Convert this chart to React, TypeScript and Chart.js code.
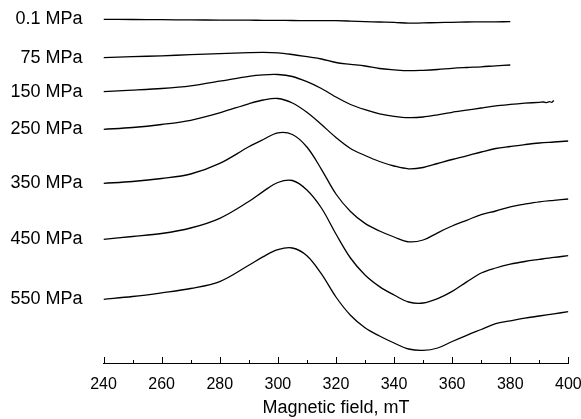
import React, { useEffect, useRef } from "react";
import { Chart, registerables } from "chart.js";

Chart.register(...registerables);

// Magnetic field grid (mT)
const FIELD_MT = [240, 250, 260, 270, 280, 290, 295, 300, 305, 310, 315, 320, 325, 330, 335, 340, 345, 350, 355, 360, 365, 370, 375, 380, 385, 390, 395, 400];

// Pressure labels (top to bottom) and baseline of each stacked spectrum (arb. units)
const PRESSURE_LABELS = ["0.1 MPa", "75 MPa", "150 MPa", "250 MPa", "350 MPa", "450 MPa", "550 MPa"];
const BASELINES = [343.7, 305.3, 271.3, 233.7, 179.7, 123.7, 63.7];

// EPR derivative signals relative to each baseline (arb. units)
const SIG_0_1 = [0, -0.2, -0.4, -0.6, -0.8, -0.9, -1.0, -1.1, -1.2, -1.3, -1.3, -1.4, -1.8, -2.3, -2.7, -3.0, -3.9, -3.6, -3.3, -3.0, -2.7, -2.6, -2.5, -2.4];
const SIG_75 = [0, 1.0, 1.9, 3.0, 4.0, 5.1, 5.4, 4.9, 3.2, 1.0, -1.3, -4.8, -6.6, -8.3, -10.8, -12.1, -13.0, -12.6, -11.8, -10.6, -9.8, -9.1, -8.1, -7.3];
const SIG_150 = [0, 1.5, 3.2, 5.9, 10.5, 15.4, 16.9, 17.2, 15.2, 10.0, 3.2, -5.3, -12.8, -18.0, -22.1, -24.6, -25.9, -25.3, -23.1, -20.6, -18.5, -16.3, -14.1, -12.7, -11.5, -10.6];
const HOOK_150_MT = [391.5, 392.5, 393.5, 394.3, 395.0];
const HOOK_150_SIG = [-10.3, -10.9, -10.0, -10.6, -8.8];
const SIG_250 = [0, 1.8, 4.8, 9.0, 16.5, 25.5, 29.3, 30.8, 26.3, 17.0, 4.8, -8.2, -19.2, -26.2, -32.2, -36.7, -39.5, -38.2, -34.2, -30.2, -26.5, -22.7, -19.2, -17.2, -15.3, -13.7, -12.7, -11.7];
const SIG_350 = [0, 1.8, 4.8, 9.3, 19.9, 36.5, 43.8, 50.5, 48.8, 36.3, 14.0, -10.7, -28.2, -40.1, -47.7, -53.7, -58.5, -56.7, -49.5, -42.7, -37.0, -31.3, -27.7, -23.5, -20.8, -18.5, -17.0, -15.7];
const SIG_450 = [0, 2.8, 5.8, 11.3, 21.0, 37.8, 47.9, 56.8, 58.8, 49.3, 31.3, 5.3, -18.7, -35.7, -47.3, -55.7, -62.7, -63.7, -59.3, -52.1, -42.6, -33.7, -28.7, -24.9, -22.2, -20.1, -18.1, -16.4];
const SIG_550 = [0, 2.8, 6.5, 10.8, 17.7, 34.0, 42.7, 49.6, 51.3, 43.6, 25.4, 2.3, -15.9, -28.4, -36.7, -43.7, -49.7, -51.1, -48.7, -42.2, -36.0, -30.2, -24.4, -21.6, -18.9, -16.7, -14.5, -12.4];

const FONT = "'Liberation Sans', Arial, Helvetica, sans-serif";

function toPoints(signal: number[], base: number, fields: number[] = FIELD_MT) {
  return signal.map((s, i) => ({ x: fields[i], y: base + s }));
}

const innerTicks = {
  id: "innerTicks",
  afterDraw(chart: any) {
    const s = chart.scales.x;
    const ctx = chart.ctx;
    ctx.save();
    ctx.strokeStyle = "#000";
    ctx.lineWidth = 1;
    ctx.beginPath();
    for (const t of s.ticks) {
      const px = Math.round(s.getPixelForValue(t.value)) + 0.5;
      const len = t.value % 20 === 0 ? 6 : 3;
      ctx.moveTo(px, Math.round(s.top));
      ctx.lineTo(px, Math.round(s.top) - len);
    }
    ctx.stroke();
    ctx.restore();
  },
};

export default function App() {
  const ref = useRef<HTMLCanvasElement | null>(null);

  useEffect(() => {
    if (!ref.current) return;
    const series = [
      toPoints(SIG_0_1, BASELINES[0]),
      toPoints(SIG_75, BASELINES[1]),
      toPoints(SIG_150, BASELINES[2]).concat(toPoints(HOOK_150_SIG, BASELINES[2], HOOK_150_MT)),
      toPoints(SIG_250, BASELINES[3]),
      toPoints(SIG_350, BASELINES[4]),
      toPoints(SIG_450, BASELINES[5]),
      toPoints(SIG_550, BASELINES[6]),
    ];
    const chart = new Chart(ref.current, {
      type: "line",
      data: {
        datasets: series.map((d, i) => ({
          label: PRESSURE_LABELS[i],
          data: d,
          borderColor: "#000",
          borderWidth: 1.3,
          pointRadius: 0,
          fill: false,
          tension: i === 2 ? 0.25 : 0.35,
        })),
      },
      options: {
        animation: false,
        responsive: false,
        layout: { padding: { left: 0, right: 12.6, top: 3, bottom: 0 } },
        plugins: { legend: { display: false }, tooltip: { enabled: false } },
        scales: {
          x: {
            type: "linear",
            min: 240,
            max: 400,
            grid: { display: false, drawTicks: false },
            border: { display: true, color: "#000", width: 1 },
            afterFit: (scale: any) => {
              scale.height = 56;
              scale.paddingLeft = 0;
              scale.paddingRight = 0;
            },
            ticks: {
              stepSize: 10,
              padding: 12,
              autoSkip: false,
              maxRotation: 0,
              color: "#000",
              font: { family: FONT, size: 16 },
              callback: (v: any) => (Number(v) % 20 === 0 ? String(v) : ""),
            },
            title: {
              display: true,
              text: "Magnetic field, mT",
              color: "#000",
              font: { family: FONT, size: 18 },
              padding: { top: 5, bottom: 0 },
            },
          },
          y: {
            min: 0,
            max: 360,
            grid: { display: false, drawTicks: false },
            border: { display: false },
            afterBuildTicks: (scale: any) => {
              scale.ticks = BASELINES.map((v) => ({ value: v }));
            },
            afterFit: (scale: any) => {
              scale.width = 103.5;
              scale.paddingTop = 0;
              scale.paddingBottom = 0;
            },
            ticks: {
              padding: 21,
              autoSkip: false,
              color: "#000",
              font: { family: FONT, size: 18 },
              callback: (_v: any, i: number) => PRESSURE_LABELS[i],
            },
          },
        },
      },
      plugins: [innerTicks],
    });
    return () => chart.destroy();
  }, []);

  return (
    <div style={{ position: "fixed", left: 0, top: 0, width: 581, height: 419, background: "#fff" }}>
      <canvas ref={ref} width={581} height={419} style={{ display: "block" }} />
    </div>
  );
}
